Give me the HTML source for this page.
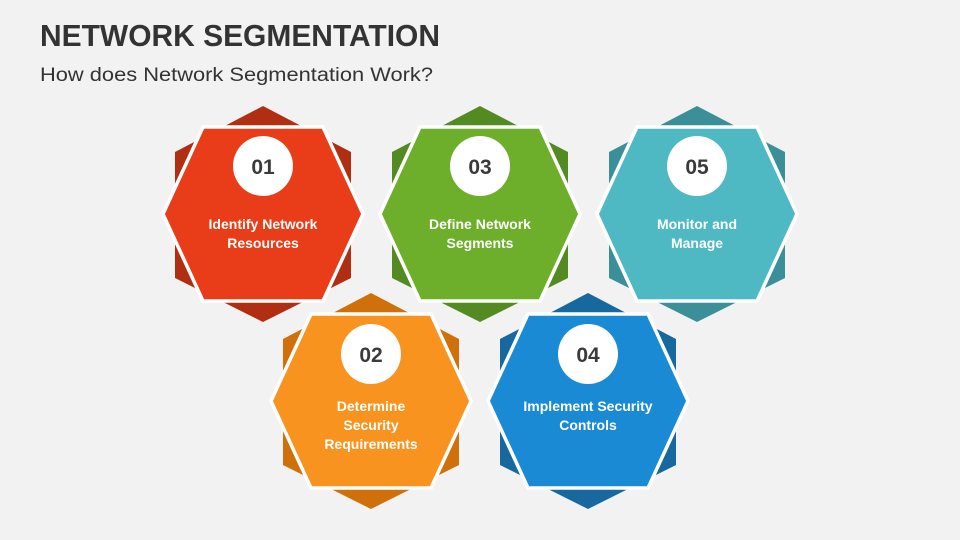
<!DOCTYPE html>
<html><head><meta charset="utf-8"><style>
body{margin:0;background:#f2f2f2;}
svg{display:block}
</style></head><body>
<svg width="960" height="540" viewBox="0 0 960 540" xmlns="http://www.w3.org/2000/svg" font-family="Liberation Sans, sans-serif">
<rect width="960" height="540" fill="#f2f2f2"/>
<text x="40" y="46" font-size="31" font-weight="bold" fill="#333" textLength="400" lengthAdjust="spacingAndGlyphs">NETWORK SEGMENTATION</text>
<text x="40" y="81" font-size="19" fill="#333" textLength="393" lengthAdjust="spacingAndGlyphs">How does Network Segmentation Work?</text>
<defs>
<g id="back"><polygon points="0,-108 88,-62 88,64 0,108 -88,64 -88,-62"/></g>
<g id="front"><polygon points="-100,0 -60,-87 60,-87 100,0 60,87 -60,87" stroke="#fff" stroke-width="3.5" stroke-linejoin="miter"/></g>
</defs>
<g transform="translate(263,214)"><use href="#back" fill="#b02e12"/><use href="#front" fill="#e83d18"/></g>
<g transform="translate(480,214)"><use href="#back" fill="#548a22"/><use href="#front" fill="#6daf2a"/></g>
<g transform="translate(697,214)"><use href="#back" fill="#3a8f98"/><use href="#front" fill="#4fb9c3"/></g>
<g transform="translate(371,401)"><use href="#back" fill="#d0700a"/><use href="#front" fill="#f7931e"/></g>
<g transform="translate(588,401)"><use href="#back" fill="#16689e"/><use href="#front" fill="#1b8ad5"/></g>
<g fill="#fff">
<circle cx="263" cy="166" r="30"/><circle cx="480" cy="166" r="30"/><circle cx="697" cy="166" r="30"/>
<circle cx="371" cy="354" r="30"/><circle cx="588" cy="354" r="30"/>
</g>
<g font-size="21" font-weight="bold" fill="#3a3a3a" text-anchor="middle">
<text x="263" y="174">01</text><text x="480" y="174">03</text><text x="697" y="174">05</text>
<text x="371" y="362">02</text><text x="588" y="362">04</text>
</g>
<g font-size="14" fill="#fff" text-anchor="middle" font-weight="bold">
<text x="263" y="229">Identify Network</text><text x="263" y="248">Resources</text>
<text x="480" y="229">Define Network</text><text x="480" y="248">Segments</text>
<text x="697" y="229">Monitor and</text><text x="697" y="248">Manage</text>
<text x="371" y="411">Determine</text><text x="371" y="430">Security</text><text x="371" y="449">Requirements</text>
<text x="588" y="411">Implement Security</text><text x="588" y="430">Controls</text>
</g>
</svg>
</body></html>
